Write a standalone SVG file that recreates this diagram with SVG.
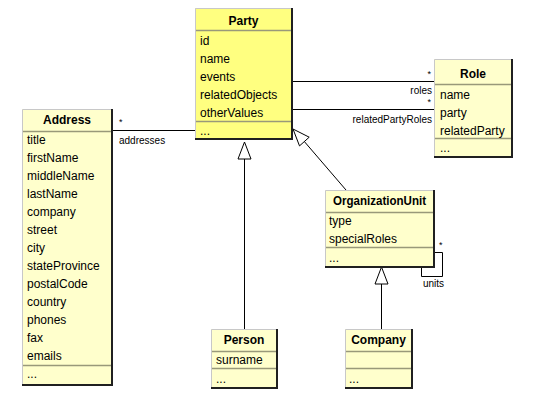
<svg xmlns="http://www.w3.org/2000/svg" width="539" height="412" viewBox="0 0 539 412">
<style>
text{font-family:"Liberation Sans",Arial,sans-serif;font-size:12px;fill:#000}
.t{font-weight:bold;text-anchor:middle}
.l{font-size:10px}
.s{font-size:9px}
.r{text-anchor:end}
.bg{fill:#ffffcc}
.bgp{fill:#ffff80}
.hl{fill:none;stroke:#c8c8c8;stroke-width:1}
.sh{fill:none;stroke:#202020;stroke-width:2}
.sep{stroke:#99997a;stroke-width:1.5}
.c{fill:none;stroke:#000;stroke-width:1}
.g{fill:#fff;stroke:#000;stroke-width:1}
</style>
<rect width="539" height="412" fill="#fff"/>
<g id="connectors">
<line class="c" x1="112" y1="130.5" x2="195" y2="130.5"/>
<text class="s" x="119" y="125">*</text>
<text class="l" x="119" y="144">addresses</text>
<line class="c" x1="292" y1="81.5" x2="434" y2="81.5"/>
<text class="s r" x="431" y="77">*</text>
<text class="l r" x="432" y="94">roles</text>
<line class="c" x1="292" y1="109.5" x2="434" y2="109.5"/>
<text class="s r" x="431" y="105">*</text>
<text class="l r" x="432" y="123">relatedPartyRoles</text>
<line class="c" x1="304.4" y1="141.6" x2="346" y2="190"/>
<polygon class="g" points="293,129 309.2,137.2 299.5,145.9"/>
<line class="c" x1="244.5" y1="159" x2="244.5" y2="329"/>
<polygon class="g" points="244.5,142 251,159 238,159"/>
<line class="c" x1="381.5" y1="283" x2="381.5" y2="329"/>
<polygon class="g" points="381.5,267 388,284 375,284"/>
<polyline class="c" points="434,252.5 442.5,252.5 442.5,276.5 421.5,276.5 421.5,267"/>
<text class="s" x="439" y="248">*</text>
<text class="l" x="423" y="287">units</text>
</g>
<g id="party">
<rect class="bgp" x="195" y="8" width="97" height="131"/>
<polyline class="hl" points="195.5,139 195.5,8.5 292,8.5"/>
<polyline class="sh" points="292,8 292,139 195,139"/>
<line class="sep" x1="196" y1="30.5" x2="291" y2="30.5"/>
<line class="sep" x1="196" y1="121.5" x2="291" y2="121.5"/>
<text class="t" x="243.5" y="25">Party</text>
<text x="200" y="45">id</text>
<text x="200" y="63">name</text>
<text x="200" y="81">events</text>
<text x="200" y="99">relatedObjects</text>
<text x="200" y="117">otherValues</text>
<text x="200" y="135">...</text>
</g>
<g id="role">
<rect class="bg" x="434" y="59" width="78" height="98"/>
<polyline class="hl" points="434.5,157 434.5,59.5 512,59.5"/>
<polyline class="sh" points="512,59 512,157 434,157"/>
<line class="sep" x1="435" y1="84.5" x2="511" y2="84.5"/>
<line class="sep" x1="435" y1="138.5" x2="511" y2="138.5"/>
<text class="t" x="473" y="78">Role</text>
<text x="440" y="99">name</text>
<text x="440" y="117">party</text>
<text x="440" y="135">relatedParty</text>
<text x="440" y="152">...</text>
</g>
<g id="address">
<rect class="bg" x="22" y="109" width="90" height="276"/>
<polyline class="hl" points="22.5,385 22.5,109.5 112,109.5"/>
<polyline class="sh" points="112,109 112,385 22,385"/>
<line class="sep" x1="23" y1="131.5" x2="111" y2="131.5"/>
<line class="sep" x1="23" y1="365.5" x2="111" y2="365.5"/>
<text class="t" x="67" y="124">Address</text>
<text x="27" y="144">title</text>
<text x="27" y="162">firstName</text>
<text x="27" y="180">middleName</text>
<text x="27" y="198">lastName</text>
<text x="27" y="216">company</text>
<text x="27" y="234">street</text>
<text x="27" y="252">city</text>
<text x="27" y="270">stateProvince</text>
<text x="27" y="288">postalCode</text>
<text x="27" y="306">country</text>
<text x="27" y="324">phones</text>
<text x="27" y="342">fax</text>
<text x="27" y="360">emails</text>
<text x="27" y="378">...</text>
</g>
<g id="organizationUnit">
<rect class="bg" x="325" y="190" width="109" height="77"/>
<polyline class="hl" points="325.5,267 325.5,190.5 434,190.5"/>
<polyline class="sh" points="434,190 434,267 325,267"/>
<line class="sep" x1="326" y1="212.5" x2="433" y2="212.5"/>
<line class="sep" x1="326" y1="247.5" x2="433" y2="247.5"/>
<text class="t" x="379.5" y="205" textLength="93" lengthAdjust="spacingAndGlyphs">OrganizationUnit</text>
<text x="329" y="225">type</text>
<text x="329" y="243">specialRoles</text>
<text x="329" y="262">...</text>
</g>
<g id="person">
<rect class="bg" x="211" y="329" width="66" height="59"/>
<polyline class="hl" points="211.5,388 211.5,329.5 277,329.5"/>
<polyline class="sh" points="277,329 277,388 211,388"/>
<line class="sep" x1="212" y1="351.5" x2="276" y2="351.5"/>
<line class="sep" x1="212" y1="368.5" x2="276" y2="368.5"/>
<text class="t" x="244" y="344">Person</text>
<text x="216" y="364">surname</text>
<text x="216" y="383">...</text>
</g>
<g id="company">
<rect class="bg" x="345" y="329" width="67" height="59"/>
<polyline class="hl" points="345.5,388 345.5,329.5 412,329.5"/>
<polyline class="sh" points="412,329 412,388 345,388"/>
<line class="sep" x1="346" y1="351.5" x2="411" y2="351.5"/>
<line class="sep" x1="346" y1="368.5" x2="411" y2="368.5"/>
<text class="t" x="378.5" y="344">Company</text>
<text x="349" y="383">...</text>
</g>
</svg>
